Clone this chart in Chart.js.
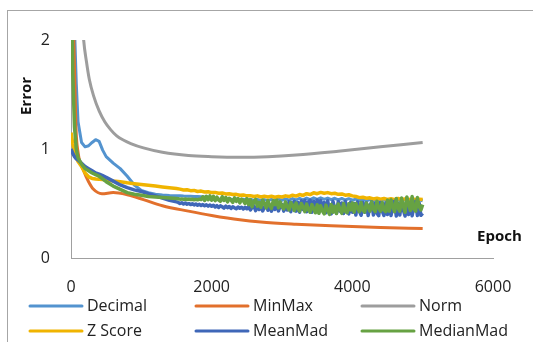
<!DOCTYPE html>
<html>
<head>
<meta charset="utf-8">
<script src="https://cdn.jsdelivr.net/npm/chart.js@4/dist/chart.umd.min.js"></script>
<style>
  body { margin: 0; background: #fff; }
  #wrap { position: relative; width: 533px; height: 342px; overflow: hidden; }
  #frame { position: absolute; left: 7px; top: 10px; width: 600px; height: 400px; border: 1px solid #a6a6a6; }
  canvas { position: absolute; left: 0; top: 0; }
</style>
</head>
<body>
<div id="wrap">
  <div id="frame"></div>
  <canvas id="errChart" width="533" height="342"></canvas>
</div>
<script>
// epochs for Decimal and Z Score
var epochs = [0, 25, 50, 75, 100, 150, 200, 250, 300, 350, 400, 450, 500, 600, 700, 800, 900, 1000, 1100, 1200, 1300, 1400, 1500,
  1550, 1600, 1650, 1700, 1750, 1800, 1850, 1900, 1950, 2000,
  2050, 2100, 2150, 2200, 2250, 2300, 2350, 2400, 2450, 2500,
  2550, 2600, 2650, 2700, 2750, 2800, 2850, 2900, 2950, 3000,
  3050, 3100, 3150, 3200, 3250, 3300, 3350, 3400, 3450, 3500,
  3550, 3600, 3650, 3700, 3750, 3800, 3850, 3900, 3950, 4000,
  4050, 4100, 4150, 4200, 4250, 4300, 4350, 4400, 4450, 4500,
  4550, 4600, 4650, 4700, 4750, 4800, 4850, 4900, 4950, 5000];

// finer epochs for the two noisy series
var denseEpochs = [0, 25, 50, 75, 100, 150, 200, 250, 300, 350, 400, 450, 500, 600, 700, 800, 900, 1000, 1100, 1200, 1300, 1400, 1500,
  1525, 1550, 1575, 1600, 1625, 1650, 1675, 1700, 1725, 1750, 1775, 1800, 1825, 1850, 1875, 1900, 1925, 1950, 1975, 2000,
  2025, 2050, 2075, 2100, 2125, 2150, 2175, 2200, 2225, 2250, 2275, 2300, 2325, 2350, 2375, 2400, 2425, 2450, 2475, 2500,
  2525, 2550, 2575, 2600, 2625, 2650, 2675, 2700, 2725, 2750, 2775, 2800, 2825, 2850, 2875, 2900, 2925, 2950, 2975, 3000,
  3025, 3050, 3075, 3100, 3125, 3150, 3175, 3200, 3225, 3250, 3275, 3300, 3325, 3350, 3375, 3400, 3425, 3450, 3475, 3500,
  3525, 3550, 3575, 3600, 3625, 3650, 3675, 3700, 3725, 3750, 3775, 3800, 3825, 3850, 3875, 3900, 3925, 3950, 3975, 4000,
  4025, 4050, 4075, 4100, 4125, 4150, 4175, 4200, 4225, 4250, 4275, 4300, 4325, 4350, 4375, 4400, 4425, 4450, 4475, 4500,
  4525, 4550, 4575, 4600, 4625, 4650, 4675, 4700, 4725, 4750, 4775, 4800, 4825, 4850, 4875, 4900, 4925, 4950, 4975, 5000];

var decimal = [3.0, 2.4, 2.1, 1.6, 1.25, 1.06, 1.02, 1.03, 1.06, 1.085, 1.07, 0.99, 0.93, 0.87, 0.82, 0.75, 0.67, 0.62, 0.6, 0.585, 0.578, 0.574, 0.572,
  0.57, 0.568, 0.567, 0.566, 0.565, 0.564, 0.562, 0.56, 0.558, 0.556,
  0.548, 0.538, 0.546, 0.536, 0.544, 0.534, 0.542, 0.532, 0.54, 0.53,
  0.54, 0.528, 0.538, 0.526, 0.536, 0.526, 0.538, 0.528, 0.54, 0.53,
  0.542, 0.53, 0.545, 0.532, 0.548, 0.534, 0.55, 0.536, 0.552, 0.538,
  0.552, 0.538, 0.55, 0.536, 0.548, 0.534, 0.546, 0.532, 0.544, 0.53,
  0.54, 0.526, 0.538, 0.524, 0.536, 0.522, 0.536, 0.522, 0.534, 0.52,
  0.534, 0.52, 0.536, 0.522, 0.538, 0.522, 0.536, 0.52, 0.534, 0.525];

var zScore = [1.15, 1.05, 0.97, 0.92, 0.885, 0.84, 0.78, 0.745, 0.73, 0.725, 0.722, 0.72, 0.716, 0.707, 0.7, 0.69, 0.682, 0.675, 0.668, 0.66, 0.652, 0.645, 0.638,
  0.632, 0.624, 0.626, 0.618, 0.62, 0.61, 0.614, 0.606, 0.608, 0.6,
  0.602, 0.594, 0.596, 0.588, 0.59, 0.582, 0.584, 0.576, 0.578, 0.57,
  0.572, 0.564, 0.57, 0.56, 0.566, 0.56, 0.566, 0.558, 0.564, 0.56,
  0.57, 0.564, 0.576, 0.568, 0.582, 0.574, 0.59, 0.582, 0.598, 0.59,
  0.602, 0.594, 0.6, 0.59, 0.594, 0.584, 0.588, 0.576, 0.58, 0.57,
  0.565, 0.554, 0.558, 0.548, 0.552, 0.542, 0.548, 0.54, 0.546, 0.538,
  0.544, 0.536, 0.546, 0.536, 0.542, 0.534, 0.544, 0.534, 0.54, 0.536];

var meanMad = [1.0, 0.96, 0.93, 0.91, 0.9, 0.87, 0.84, 0.82, 0.8, 0.78, 0.77, 0.755, 0.74, 0.705, 0.67, 0.645, 0.625, 0.61, 0.59, 0.57, 0.55, 0.53, 0.515,
  0.51, 0.5, 0.507, 0.496, 0.504, 0.493, 0.5, 0.49, 0.498, 0.487, 0.495, 0.484, 0.492, 0.482, 0.49, 0.479, 0.488, 0.476, 0.486, 0.474,
  0.484, 0.468, 0.48, 0.464, 0.478, 0.47, 0.458, 0.476, 0.462, 0.472, 0.455, 0.47, 0.46, 0.452, 0.468, 0.456, 0.466, 0.45, 0.464, 0.452,
  0.47, 0.44, 0.465, 0.478, 0.435, 0.47, 0.445, 0.48, 0.432, 0.468, 0.485, 0.438, 0.475, 0.43, 0.482, 0.445, 0.488, 0.432, 0.478, 0.49,
  0.43, 0.505, 0.44, 0.515, 0.425, 0.5, 0.52, 0.43, 0.51, 0.42, 0.525, 0.445, 0.53, 0.425, 0.515, 0.53, 0.42, 0.52, 0.435, 0.532,
  0.42, 0.528, 0.44, 0.51, 0.415, 0.525, 0.43, 0.405, 0.52, 0.45, 0.41, 0.518, 0.43, 0.505, 0.408, 0.52, 0.44, 0.405, 0.51, 0.42,
  0.5, 0.395, 0.515, 0.43, 0.392, 0.51, 0.42, 0.505, 0.39, 0.48, 0.515, 0.395, 0.5, 0.41, 0.388, 0.51, 0.43, 0.39, 0.505, 0.4,
  0.515, 0.39, 0.47, 0.52, 0.385, 0.5, 0.395, 0.518, 0.44, 0.385, 0.52, 0.4, 0.51, 0.388, 0.47, 0.52, 0.39, 0.505, 0.392, 0.41];

var medianMad = [3.0, 1.7, 1.2, 1.0, 0.92, 0.86, 0.82, 0.8, 0.78, 0.765, 0.75, 0.725, 0.7, 0.66, 0.63, 0.6, 0.585, 0.575, 0.565, 0.56, 0.555, 0.55, 0.545,
  0.543, 0.54, 0.542, 0.538, 0.541, 0.537, 0.54, 0.536, 0.539, 0.535, 0.538, 0.534, 0.54, 0.536, 0.562, 0.528, 0.566, 0.534, 0.57, 0.53,
  0.565, 0.526, 0.558, 0.532, 0.52, 0.562, 0.528, 0.555, 0.515, 0.548, 0.53, 0.51, 0.552, 0.52, 0.545, 0.505, 0.54, 0.525, 0.5, 0.545,
  0.49, 0.535, 0.47, 0.52, 0.538, 0.475, 0.51, 0.465, 0.532, 0.5, 0.46, 0.528, 0.48, 0.455, 0.525, 0.49, 0.53, 0.46, 0.515, 0.47,
  0.45, 0.515, 0.47, 0.44, 0.51, 0.485, 0.435, 0.505, 0.46, 0.43, 0.5, 0.47, 0.425, 0.495, 0.445, 0.42, 0.49, 0.455, 0.415, 0.488,
  0.41, 0.48, 0.43, 0.405, 0.485, 0.44, 0.4, 0.49, 0.42, 0.475, 0.408, 0.495, 0.445, 0.41, 0.5, 0.43, 0.415, 0.498, 0.44, 0.505,
  0.42, 0.5, 0.46, 0.425, 0.51, 0.44, 0.42, 0.505, 0.47, 0.43, 0.515, 0.45, 0.425, 0.52, 0.46, 0.43, 0.51, 0.44, 0.425, 0.53,
  0.43, 0.535, 0.47, 0.425, 0.545, 0.46, 0.43, 0.55, 0.48, 0.42, 0.56, 0.5, 0.435, 0.565, 0.45, 0.43, 0.555, 0.47, 0.44, 0.49];

// smooth series with their own epochs
var minMaxEpochs = [0, 40, 70, 100, 180, 250, 320, 440, 600, 800, 1030, 1300, 1670, 2000, 2400, 2700, 3200, 3700, 4400, 5000];
var minMax = [2.5, 2.0, 1.2, 0.97, 0.8, 0.7, 0.63, 0.59, 0.6, 0.58, 0.536, 0.48, 0.43, 0.39, 0.35, 0.33, 0.31, 0.295, 0.28, 0.27];

var normEpochs = [150, 180, 220, 260, 320, 400, 480, 560, 650, 750, 850, 1030, 1300, 1670, 2000, 2400, 2800, 3200, 3800, 4400, 5000];
var norm = [2.3, 2.0, 1.8, 1.64, 1.49, 1.35, 1.25, 1.18, 1.12, 1.08, 1.05, 1.01, 0.97, 0.94, 0.93, 0.925, 0.93, 0.945, 0.98, 1.02, 1.06];

var xTicks = [0, 2000, 4000, 6000];
var yTicks = [0, 1, 2];

function pts(xs, ys) {
  return xs.map(function (x, i) { return { x: x, y: ys[i] }; });
}

function line(label, xs, ys, color, order, smooth, width) {
  return {
    label: label,
    data: pts(xs, ys),
    borderColor: color,
    backgroundColor: color,
    borderWidth: width || 3,
    pointRadius: 0,
    borderJoinStyle: 'round',
    cubicInterpolationMode: smooth ? 'monotone' : 'default',
    tension: 0,
    order: order
  };
}

var font = "'Open Sans', sans-serif";

// legend in a 3 x 2 grid like the spreadsheet one
var gridLegend = {
  id: 'gridLegend',
  afterDraw: function (chart) {
    var c = chart.ctx;
    var cols = [30, 196, 362];
    var rows = [306, 331];
    c.save();
    c.font = '16px ' + font;
    c.textBaseline = 'middle';
    c.fillStyle = '#222';
    chart.data.datasets.forEach(function (ds, i) {
      var x = cols[i % 3], y = rows[Math.floor(i / 3)];
      c.strokeStyle = ds.borderColor;
      c.lineWidth = 3;
      c.lineCap = 'round';
      c.beginPath();
      c.moveTo(x, y);
      c.lineTo(x + 52, y);
      c.stroke();
      c.fillText(ds.label, x + 57, y);
    });
    c.restore();
  }
};

// axis titles placed where the original has them
var axisTitles = {
  id: 'axisTitles',
  afterDraw: function (chart) {
    var c = chart.ctx;
    c.save();
    c.font = 'bold 15px ' + font;
    c.fillStyle = '#111';
    c.textBaseline = 'middle';
    c.textAlign = 'left';
    c.fillText('Epoch', 477, 237);
    c.translate(27, 96);
    c.rotate(-Math.PI / 2);
    c.textAlign = 'center';
    c.fillText('Error', 0, 0);
    c.restore();
  }
};

var ctx = document.getElementById('errChart').getContext('2d');
var chart = new Chart(ctx, {
  type: 'line',
  data: {
    datasets: [
      line('Decimal', epochs, decimal, '#5393cf', 6, false),
      line('MinMax', minMaxEpochs, minMax, '#e2702c', 5, true),
      line('Norm', normEpochs, norm, '#9d9d9d', 4, true),
      line('Z Score', epochs, zScore, '#f0b400', 3, false, 3.5),
      line('MeanMad', denseEpochs, meanMad, '#3f67b8', 2, false, 3.5),
      line('MedianMad', denseEpochs, medianMad, '#67a243', 1, false, 3.5)
    ]
  },
  options: {
    responsive: false,
    animation: false,
    layout: { padding: { left: 0, top: 40, right: 40, bottom: 0 } },
    plugins: { legend: { display: false }, tooltip: { enabled: false } },
    scales: {
      x: {
        type: 'linear',
        min: 0,
        max: 6000,
        afterFit: function (s) { s.height = 84; },
        afterBuildTicks: function (s) { s.ticks = xTicks.map(function (v) { return { value: v }; }); },
        grid: { drawOnChartArea: false, drawTicks: false },
        border: { color: '#a0a0a0', width: 1 },
        ticks: { padding: 20, color: '#222', font: { family: font, size: 16 }, maxRotation: 0,
          callback: function (v) { return String(v); } }
      },
      y: {
        min: 0,
        max: 2,
        afterFit: function (s) { s.width = 71; },
        afterBuildTicks: function (s) { s.ticks = yTicks.map(function (v) { return { value: v }; }); },
        grid: { drawOnChartArea: false, drawTicks: false },
        border: { color: '#a0a0a0', width: 1 },
        ticks: { padding: 21, color: '#222', font: { family: font, size: 16 },
          callback: function (v) { return String(v); } }
      }
    }
  },
  plugins: [gridLegend, axisTitles]
});
</script>
</body>
</html>
